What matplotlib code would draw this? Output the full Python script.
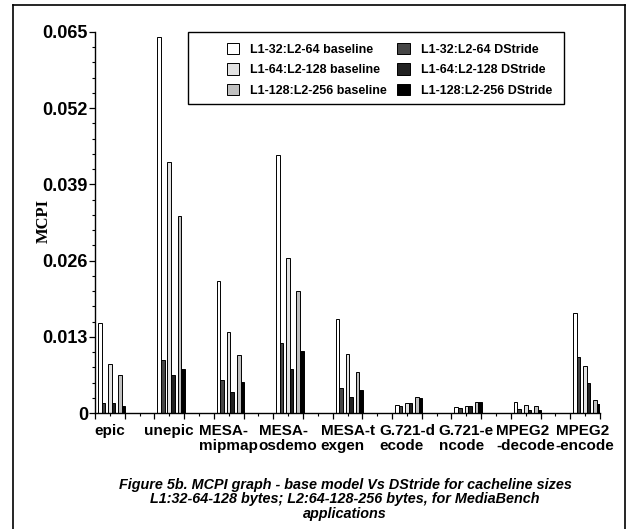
import numpy as np
import matplotlib
matplotlib.use('Agg')
import matplotlib.pyplot as plt
from matplotlib.lines import Line2D
from matplotlib.patches import Rectangle
from matplotlib.ticker import MultipleLocator

# --- Datos -------------------------------------------------------------------
benchmarks = ['epic', 'unepic', 'MESA-\nmipmap', 'MESA-\nosdemo', 'MESA-t\nexgen',
              'G.721-d\necode', 'G.721-e\nncode', 'MPEG2\n-decode', 'MPEG2\n-encode']

series_names = ['L1-32:L2-64 baseline', 'L1-64:L2-128 baseline', 'L1-128:L2-256 baseline',
                'L1-32:L2-64 DStride', 'L1-64:L2-128 DStride', 'L1-128:L2-256 DStride']

base_32 = [0.0153, 0.0641, 0.0225, 0.0441, 0.0160, 0.00131, 0.00097, 0.00182, 0.0171]
base_64 = [0.0083, 0.0428, 0.0139, 0.0265, 0.0100, 0.00176, 0.00125, 0.00131, 0.0080]
base_128 = [0.00654, 0.0336, 0.00984, 0.0208, 0.00694, 0.00268, 0.00182, 0.00114, 0.00216]
ds_32 = [0.00176, 0.00904, 0.00563, 0.0119, 0.00432, 0.00125, 0.00080, 0.00074, 0.0095]
ds_64 = [0.00170, 0.00648, 0.00353, 0.0075, 0.00273, 0.00165, 0.00120, 0.00057, 0.0051]
ds_128 = [0.00125, 0.0075, 0.00534, 0.0105, 0.00387, 0.00256, 0.00182, 0.00057, 0.00159]

yticks = [0, 0.013, 0.026, 0.039, 0.052, 0.065]
yticklabels = ['0', '0.013', '0.026', '0.039', '0.052', '0.065']

colores_base = ['#ffffff', '#e2e2e2', '#c0c0c0']
colores_ds = ['#464646', '#222222', '#000000']

plt.rcParams['font.family'] = ['Liberation Sans', 'DejaVu Sans']
plt.rcParams['font.weight'] = 'bold'

fig = plt.figure(figsize=(6.31, 5.29), dpi=100)
ax = fig.add_axes([95/631, 1 - 413/529, 505/631, 381/529])

# --- Barras ------------------------------------------------------------------
x0 = np.arange(len(benchmarks)) * 2
ancho = 0.12
offsets = [0.22, 0.56, 0.90]
base = [base_32, base_64, base_128]
ds = [ds_32, ds_64, ds_128]
handles = []
for i in range(3):
    h = ax.bar(x0 + offsets[i] - ancho/2, base[i], ancho, color=colores_base[i],
               edgecolor='black', linewidth=0.7)
    handles.append(h)
for i in range(3):
    h = ax.bar(x0 + offsets[i] + ancho/2, ds[i], ancho, color=colores_ds[i],
               edgecolor='black', linewidth=0.7)
    handles.append(h)

# --- Ejes --------------------------------------------------------------------
ax.set_xlim(0, 17)
ax.set_ylim(0, 0.065)
ax.spines['top'].set_visible(False)
ax.spines['right'].set_visible(False)
ax.spines['left'].set_linewidth(1.0)
ax.spines['bottom'].set_linewidth(1.0)
ax.set_yticks(yticks)
ax.set_yticklabels(yticklabels, fontsize=13, fontweight='bold')
ax.yaxis.set_minor_locator(MultipleLocator(0.0026))
ax.xaxis.set_major_locator(MultipleLocator(1))
ax.xaxis.set_minor_locator(MultipleLocator(0.5))
ax.set_xticklabels([])
ax.tick_params(axis='both', which='major', direction='out', length=4, width=0.9, pad=1)
ax.tick_params(axis='both', which='minor', direction='out', length=2.5, width=0.8)
ax.tick_params(axis='x', which='both', labelbottom=False)

for k, nombre in enumerate(benchmarks):
    ax.text(2*k + 0.5, -0.03, nombre, transform=ax.get_xaxis_transform(),
            ha='center', va='top', multialignment='left', fontsize=11,
            fontweight='bold', linespacing=1.08)

fig.text(44/631, 1 - 221/529, 'MCPI', rotation=90, ha='center', va='center',
         family='Liberation Serif', fontweight='bold', fontsize=12)

# --- Leyenda -----------------------------------------------------------------
leg = ax.legend(handles, series_names, ncol=2, loc='upper right',
                bbox_to_anchor=(561/631, 1 - 34/529), bbox_transform=fig.transFigure,
                frameon=False, fontsize=9, handlelength=1.0, handleheight=1.0,
                handletextpad=0.9, columnspacing=0.8, labelspacing=0.62, borderpad=0.2)
for t in leg.get_texts():
    t.set_fontweight('bold')
ax.add_patch(Rectangle((188/631, 1 - 104/529), 376/631, 72/529, transform=fig.transFigure,
                       fill=False, edgecolor='black', linewidth=1.0, clip_on=False))

# --- Marco y titulo ----------------------------------------------------------
for xs, ys in [([13/631, 13/631], [0, 1 - 5/529]),
               ([13/631, 625/631], [1 - 5/529, 1 - 5/529]),
               ([625/631, 625/631], [1 - 5/529, 0])]:
    fig.add_artist(Line2D(xs, ys, color='black', linewidth=1.2))

fig.text(345/631, 1 - 478/529,
         'Figure 5b. MCPI graph - base model Vs DStride for cacheline sizes\n'
         'L1:32-64-128 bytes; L2:64-128-256 bytes, for MediaBench\napplications',
         ha='center', va='top', fontsize=10.4, fontweight='bold', style='italic',
         linespacing=1.03)

fig.savefig('out.png', dpi=100)
